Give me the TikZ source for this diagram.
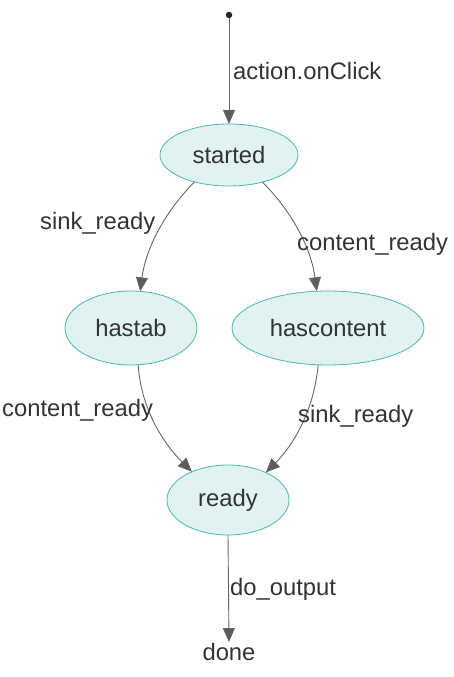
\documentclass[tikz,border=0pt]{standalone}
\usepackage{fontspec}
\setmainfont{Liberation Sans}
\usetikzlibrary{shapes.geometric,arrows.meta}
\definecolor{statefill}{HTML}{E0F2F1}
\definecolor{stateline}{HTML}{4DB6AC}
\definecolor{txt}{HTML}{333333}
\definecolor{edgec}{HTML}{666666}
\tikzset{
  x=1pt,y=1pt,
  state/.style={ellipse,draw=stateline,fill=statefill,line width=0.8pt,inner sep=0pt,outer sep=0pt,text=txt,font=\fontsize{23.8}{28}\selectfont},
  lbl/.style={anchor=west,inner sep=0pt,text=txt,font=\fontsize{23.8}{28}\selectfont},
  trans/.style={draw=edgec,line width=0.9pt,-{Triangle[length=14pt,width=12pt,fill=edgec!90!black]}},
}
\begin{document}
\begin{tikzpicture}
\useasboundingbox (0,0) rectangle (454,677);
\node[circle,fill=black!85,inner sep=0pt,minimum size=6.5pt] (init) at (229,662) {};
\node[state,minimum width=138pt,minimum height=62pt] (started) at (229,522) {started};
\node[state,minimum width=132pt,minimum height=74pt] (hastab) at (131,349) {hastab};
\node[state,minimum width=192pt,minimum height=74pt] (hascontent) at (328,349) {hascontent};
\node[state,minimum width=122pt,minimum height=70pt] (ready) at (228,177) {ready};
\node[text=txt,font=\fontsize{23.8}{28}\selectfont,inner sep=1pt] (done) at (229,25) {done};

\draw[trans] (init) -- (started.north);
\draw[trans] (started.218) .. controls +(-28,-28) and +(6,45) .. (hastab.76);
\draw[trans] (started.321) .. controls +(28,-28) and +(-6,45) .. (hascontent.107);
\draw[trans] (hastab.281) .. controls +(3,-45) and +(-28,28) .. (ready.142);
\draw[trans] (hascontent.255) .. controls +(-4,-45) and +(28,28) .. (ready.36);
\draw[trans] (ready.south) -- (done.north);

\node[lbl] (l1) at (233,606) {action.onClick};
\node[lbl] (l2) at (40,454) {sink\_ready};
\node[lbl] (l3) at (297,433) {content\_ready};
\node[lbl] (l4) at (2,267) {content\_ready};
\node[lbl] (l5) at (298,261) {sink\_ready};
\node[lbl] (l6) at (230,88) {do\_output};
\end{tikzpicture}
\end{document}
